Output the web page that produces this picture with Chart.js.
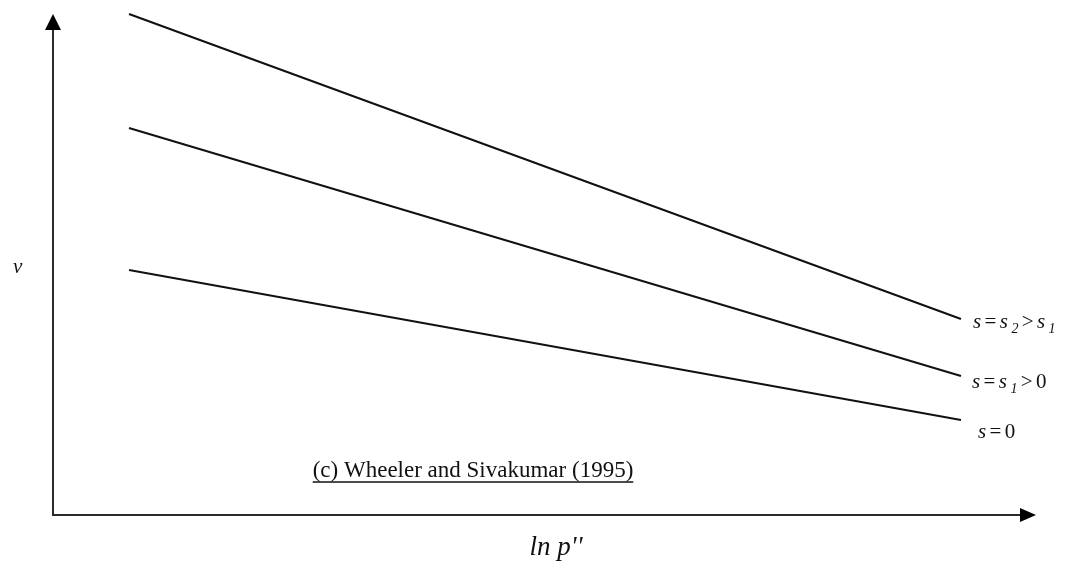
<!DOCTYPE html>
<html>
<head>
<meta charset="utf-8">
<script src="https://cdn.jsdelivr.net/npm/chart.js@4/dist/chart.umd.min.js"></script>
<style>
  html, body { margin: 0; padding: 0; background: #ffffff; }
  #wrap { width: 1070px; height: 573px; position: relative; }
</style>
</head>
<body>
<div id="wrap"><canvas id="chart"></canvas></div>
<script>
// ln p'' positions where each schematic line starts and ends
const lnP = [0.76, 9.08];
// v along each line, for the three values of s
const vS2 = [5.01, 1.96];
const vS1 = [3.87, 1.39];
const vZero = [2.45, 0.95];

// Line labels, split into runs: i = italic, sub = subscript
const labelS2 = [{ t: 's', i: true }, { t: '=' }, { t: 's', i: true }, { t: '2', i: true, sub: true }, { t: '>' }, { t: 's', i: true }, { t: '1', i: true, sub: true }];
const labelS1 = [{ t: 's', i: true }, { t: '=' }, { t: 's', i: true }, { t: '1', i: true, sub: true }, { t: '>' }, { t: '0' }];
const labelZero = [{ t: 's', i: true }, { t: '=' }, { t: '0' }];

const xTitle = "ln p''";
const yTitle = 'v';
const caption = '(c) Wheeler and Sivakumar (1995)';

const SERIF = '"Liberation Serif", "DejaVu Serif", serif';

function series(vals, runs, labelDx, labelDy) {
  return {
    data: lnP.map((x, k) => ({ x: x, y: vals[k] })),
    runs: runs,
    labelDx: labelDx,
    labelDy: labelDy,
    borderColor: '#111111',
    borderWidth: 2,
    pointRadius: 0,
    fill: false,
    tension: 0
  };
}

function drawRuns(ctx, runs, x, y) {
  let cx = x;
  runs.forEach(r => {
    const size = r.sub ? 14 : 21;
    ctx.font = (r.i ? 'italic ' : '') + size + 'px ' + SERIF;
    ctx.fillText(r.t, cx, r.sub ? y + 5 : y);
    cx += ctx.measureText(r.t).width + 3.4;
  });
}

const schematic = {
  id: 'schematic',
  beforeDatasetsDraw(chart) {
    const ctx = chart.ctx;
    const xs = chart.scales.x, ys = chart.scales.y;
    const ox = xs.getPixelForValue(0), oy = ys.getPixelForValue(0);
    const xTip = xs.getPixelForValue(9.83);
    const yTip = ys.getPixelForValue(5.01);
    ctx.save();
    ctx.strokeStyle = '#2a2a2a';
    ctx.fillStyle = '#000000';
    ctx.lineWidth = 2;
    // axes
    ctx.beginPath();
    ctx.moveTo(ox, oy + 1);
    ctx.lineTo(ox, yTip + 10);
    ctx.moveTo(ox - 1, oy);
    ctx.lineTo(xTip - 10, oy);
    ctx.stroke();
    // arrow heads
    ctx.beginPath();
    ctx.moveTo(ox, yTip);
    ctx.lineTo(ox + 8, yTip + 16);
    ctx.lineTo(ox - 8, yTip + 16);
    ctx.closePath();
    ctx.fill();
    ctx.beginPath();
    ctx.moveTo(xTip, oy);
    ctx.lineTo(xTip - 16, oy - 7);
    ctx.lineTo(xTip - 16, oy + 7);
    ctx.closePath();
    ctx.fill();
    ctx.restore();
  },
  afterDatasetsDraw(chart) {
    const ctx = chart.ctx;
    const xs = chart.scales.x, ys = chart.scales.y;
    ctx.save();
    ctx.fillStyle = '#111111';
    ctx.textBaseline = 'alphabetic';
    ctx.textAlign = 'left';
    // labels at the right end of each line
    chart.data.datasets.forEach(ds => {
      const last = ds.data[ds.data.length - 1];
      const px = xs.getPixelForValue(last.x), py = ys.getPixelForValue(last.y);
      drawRuns(ctx, ds.runs, px + ds.labelDx, py + ds.labelDy);
    });
    // axis titles
    ctx.font = 'italic 21px ' + SERIF;
    ctx.fillText(yTitle, 13, 273);
    ctx.font = 'italic 27px ' + SERIF;
    ctx.textAlign = 'center';
    ctx.fillText(xTitle, 556, 555);
    // caption, underlined
    ctx.font = '23px ' + SERIF;
    const w = ctx.measureText(caption).width;
    const cx = 473;
    ctx.fillText(caption, cx, 477);
    ctx.strokeStyle = '#111111';
    ctx.lineWidth = 1.3;
    ctx.beginPath();
    ctx.moveTo(cx - w / 2, 482);
    ctx.lineTo(cx + w / 2, 482);
    ctx.stroke();
    ctx.restore();
  }
};

new Chart(document.getElementById('chart'), {
  type: 'line',
  data: {
    datasets: [
      series(vS2, labelS2, 12, 9),
      series(vS1, labelS1, 11, 12),
      series(vZero, labelZero, 17, 18)
    ]
  },
  options: {
    responsive: true,
    maintainAspectRatio: false,
    animation: false,
    layout: { padding: 0 },
    plugins: { legend: { display: false }, tooltip: { enabled: false }, title: { display: false } },
    scales: {
      x: { type: 'linear', min: -0.53, max: 10.17, display: false },
      y: { type: 'linear', min: -0.58, max: 5.15, display: false }
    }
  },
  plugins: [schematic]
});
</script>
</body>
</html>
